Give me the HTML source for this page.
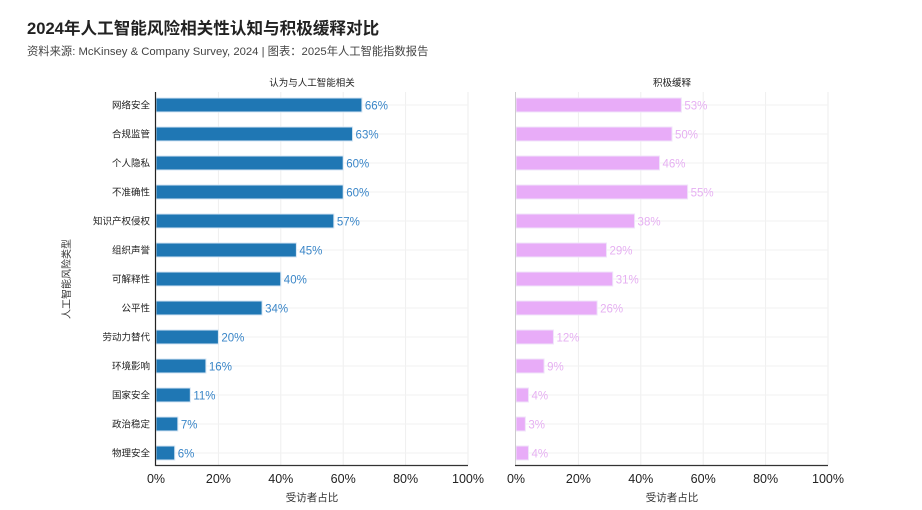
<!DOCTYPE html>
<html><head><meta charset="utf-8"><style>
body{margin:0;background:#fff;}
svg text{font-family:"Liberation Sans","Noto Sans CJK SC",sans-serif;}
</style></head><body>
<svg width="922" height="505" xmlns="http://www.w3.org/2000/svg">
<text x="27" y="34" font-size="16.6" font-weight="bold" fill="#222">2024年人工智能风险相关性认知与积极缓释对比</text>
<text x="27" y="55" font-size="11.3" fill="#444">资料来源: McKinsey &amp; Company Survey, 2024 | 图表：2025年人工智能指数报告</text>
<text x="312" y="86" font-size="9.5" text-anchor="middle" fill="#222">认为与人工智能相关</text>
<text x="672" y="86" font-size="9.5" text-anchor="middle" fill="#222">积极缓释</text>
<g id="grid" stroke="#eeeeee" stroke-width="1">
<line x1="218.4" y1="92" x2="218.4" y2="465"/><line x1="280.8" y1="92" x2="280.8" y2="465"/><line x1="343.2" y1="92" x2="343.2" y2="465"/><line x1="405.6" y1="92" x2="405.6" y2="465"/><line x1="468" y1="92" x2="468" y2="465"/>
<line x1="578.4" y1="92" x2="578.4" y2="465"/><line x1="640.8" y1="92" x2="640.8" y2="465"/><line x1="703.2" y1="92" x2="703.2" y2="465"/><line x1="765.6" y1="92" x2="765.6" y2="465"/><line x1="828" y1="92" x2="828" y2="465"/>
</g>
<g id="bars"></g>
<line x1="155.5" y1="92" x2="155.5" y2="466" stroke="#222" stroke-width="1.2"/>
<line x1="155" y1="465.5" x2="468" y2="465.5" stroke="#333" stroke-width="1.2"/>
<line x1="515.5" y1="92" x2="515.5" y2="466" stroke="#ccc" stroke-width="1"/>
<line x1="515" y1="465.5" x2="828" y2="465.5" stroke="#333" stroke-width="1.2"/>
<g font-size="12.5" fill="#222" text-anchor="middle">
<text x="156" y="483">0%</text><text x="218.4" y="483">20%</text><text x="280.8" y="483">40%</text><text x="343.2" y="483">60%</text><text x="405.6" y="483">80%</text><text x="468" y="483">100%</text>
<text x="516" y="483">0%</text><text x="578.4" y="483">20%</text><text x="640.8" y="483">40%</text><text x="703.2" y="483">60%</text><text x="765.6" y="483">80%</text><text x="828" y="483">100%</text>
</g>
<text x="312" y="501" font-size="10.5" text-anchor="middle" fill="#333">受访者占比</text>
<text x="672" y="501" font-size="10.5" text-anchor="middle" fill="#333">受访者占比</text>
<text transform="translate(70,279) rotate(-90)" font-size="10" text-anchor="middle" fill="#333">人工智能风险类型</text>
<g id="labels" font-size="9.5" fill="#222" text-anchor="end"></g>
</svg>
<script>
var cats=["网络安全","合规监管","个人隐私","不准确性","知识产权侵权","组织声誉","可解释性","公平性","劳动力替代","环境影响","国家安全","政治稳定","物理安全"];
var a=[66,63,60,60,57,45,40,34,20,16,11,7,6];
var b=[53,50,46,55,38,29,31,26,12,9,4,3,4];
var ns="http://www.w3.org/2000/svg";
var g=document.getElementById("bars"),L=document.getElementById("labels");
function el(t,at,p,txt){var e=document.createElementNS(ns,t);for(var k in at)e.setAttribute(k,at[k]);if(txt)e.textContent=txt;p.appendChild(e);return e;}
for(var i=0;i<13;i++){
 var y=105+i*29;
 el("line",{x1:156,x2:468,y1:y,y2:y,stroke:"#f2f2f2"},g);
 el("line",{x1:516,x2:828,y1:y,y2:y,stroke:"#f2f2f2"},g);
 el("rect",{x:156,y:y-7,width:a[i]*3.12,height:14,fill:"#1f77b4",stroke:"#d6e6f4","stroke-width":1},g);
 el("rect",{x:516,y:y-7,width:b[i]*3.12,height:14,fill:"#e8acf8",stroke:"#f0e4fa","stroke-width":1},g);
 el("text",{x:156+a[i]*3.12+3,y:y+4.5,"font-size":11.5,fill:"#3a86c8"},g,a[i]+"%");
 el("text",{x:516+b[i]*3.12+3,y:y+4.5,"font-size":11.5,fill:"#e6b0f2"},g,b[i]+"%");
 el("text",{x:150,y:y+3.5},L,cats[i]);
}
</script>
</body></html>
